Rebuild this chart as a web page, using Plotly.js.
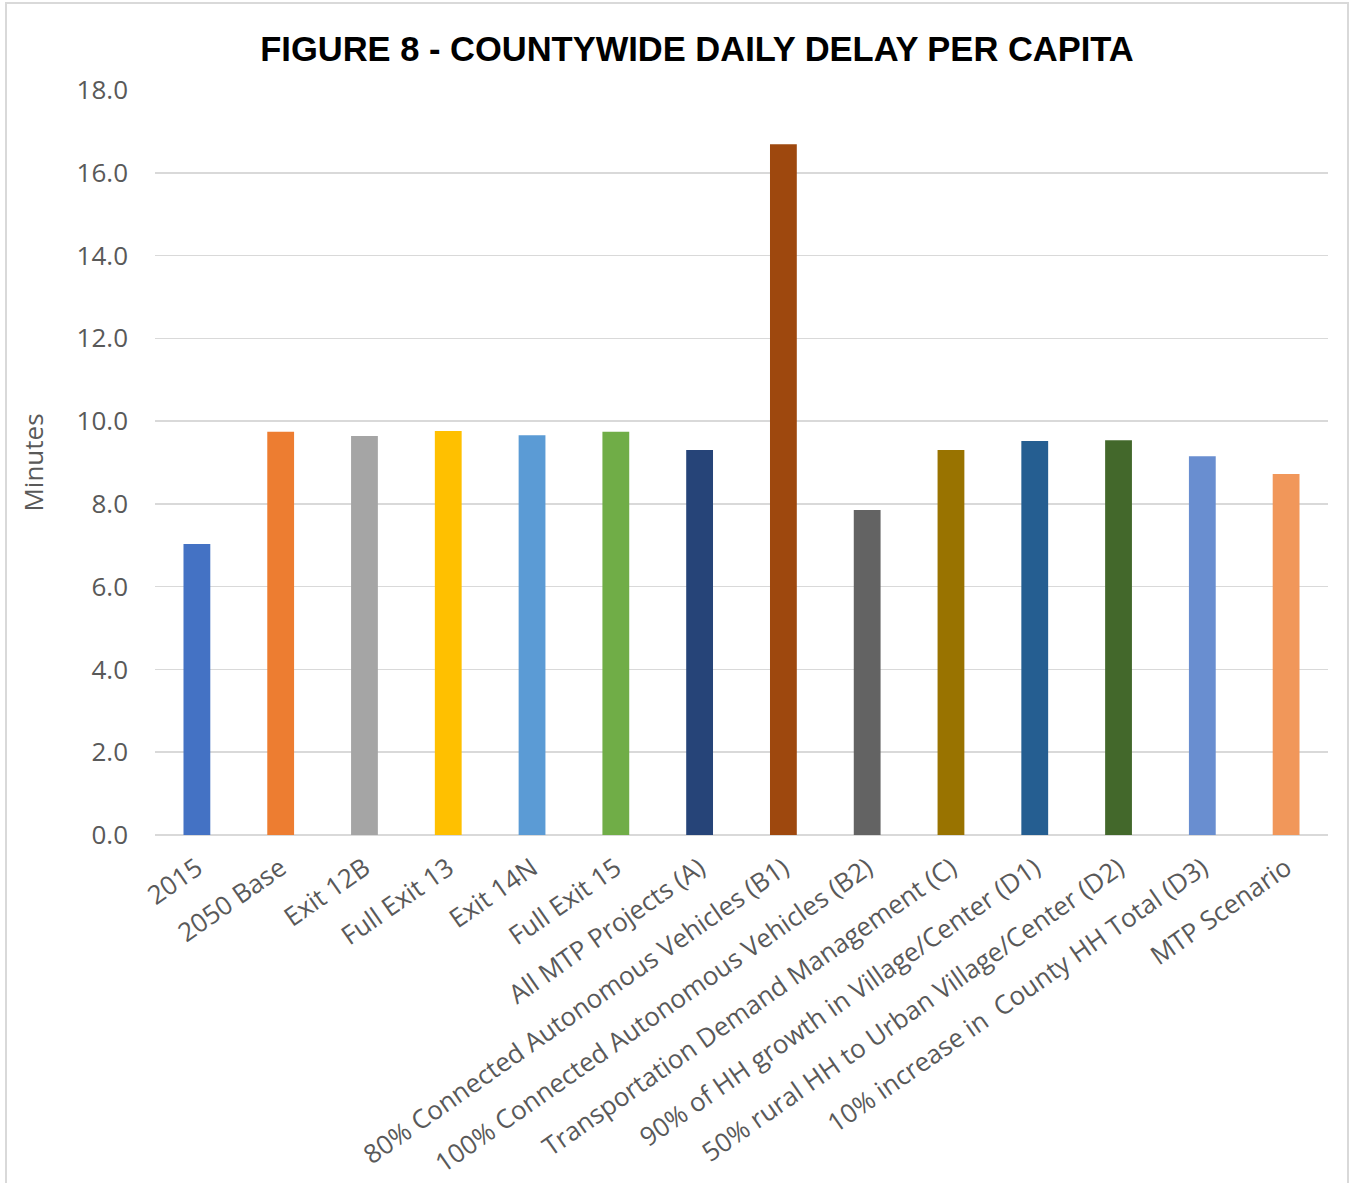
<!DOCTYPE html>
<html>
<head>
<meta charset="utf-8">
<script src="https://cdn.plot.ly/plotly-3.0.1.min.js"></script>
<style>
  html, body { margin: 0; padding: 0; background: #ffffff; }
  #chart { width: 1352px; height: 1183px; }
</style>
</head>
<body>
<div id="chart"></div>
<script>
const categories = [
  "2015",
  "2050 Base",
  "Exit 12B",
  "Full Exit 13",
  "Exit 14N",
  "Full Exit 15",
  "All MTP Projects (A)",
  "80% Connected Autonomous Vehicles (B1)",
  "100% Connected Autonomous Vehicles (B2)",
  "Transportation Demand Management (C)",
  "90% of HH growth in Village/Center (D1)",
  "50% rural HH to Urban Village/Center (D2)",
  "10% increase in  County HH Total (D3)",
  "MTP Scenario"
];
const delayMinutes = [7.03, 9.74, 9.64, 9.76, 9.66, 9.74, 9.30, 16.69, 7.85, 9.30, 9.52, 9.54, 9.15, 8.72];
const barColors = [
  "#4472C4", "#ED7D31", "#A5A5A5", "#FFC000", "#5B9BD5", "#70AD47", "#264478",
  "#9E480E", "#636363", "#997300", "#255E91", "#43682B", "#698ED0", "#F1975A"
];
const yTickValues = [0, 2, 4, 6, 8, 10, 12, 14, 16, 18];
const yTickLabels = ["0.0", "2.0", "4.0", "6.0", "8.0", "10.0", "12.0", "14.0", "16.0", "18.0"];
const chartTitle = "FIGURE 8 - COUNTYWIDE DAILY DELAY PER CAPITA";
const yAxisTitle = "Minutes";

const W = 1352, H = 1183;
const M = { l: 155, r: 24, t: 90, b: 348 };
const pw = W - M.l - M.r, ph = H - M.t - M.b;
const px = v => (v - M.l) / pw;
const py = v => (H - M.b - v) / ph;

const textFont = { family: "'Open Sans', 'Noto Sans', sans-serif", size: 26, color: "#595959" };

const trace = {
  type: "bar",
  x: categories.map((c, i) => i),
  y: delayMinutes,
  marker: { color: barColors, line: { width: 0 } },
  hoverinfo: "x+y"
};

const layout = {
  width: W,
  height: H,
  margin: M,
  paper_bgcolor: "#ffffff",
  plot_bgcolor: "#ffffff",
  showlegend: false,
  bargap: 0.68,
  title: {
    text: "<b>" + chartTitle + "</b>",
    font: { family: "'Liberation Sans', Arial, sans-serif", size: 34.5, color: "#000000" },
    x: 697 / W,
    xref: "container",
    xanchor: "center",
    y: 1 - 49 / H,
    yref: "container",
    yanchor: "middle"
  },
  xaxis: {
    type: "linear",
    range: [-0.5, categories.length - 0.5],
    tickmode: "array",
    tickvals: categories.map((c, i) => i),
    ticktext: categories,
    tickangle: -35,
    tickfont: textFont,
    showgrid: false,
    zeroline: false,
    showline: false,
    ticks: "",
    ticklabelstandoff: 12,
    fixedrange: true
  },
  yaxis: {
    range: [0, 18],
    tickmode: "array",
    tickvals: yTickValues,
    ticktext: yTickLabels,
    tickfont: textFont,
    showgrid: true,
    gridcolor: "#d9d9d9",
    gridwidth: 1.5,
    zeroline: true,
    zerolinecolor: "#d9d9d9",
    zerolinewidth: 2,
    showline: false,
    ticks: "",
    ticklabelstandoff: 26,
    title: { text: yAxisTitle, font: textFont, standoff: 25 },
    fixedrange: true
  },
  shapes: [
    {
      type: "rect",
      xref: "paper", yref: "paper",
      x0: px(6), x1: px(1348), y0: py(1260), y1: py(3),
      line: { color: "#d9d9d9", width: 2 },
      fillcolor: "rgba(0,0,0,0)",
      layer: "below"
    }
  ]
};

Plotly.newPlot("chart", [trace], layout, { displayModeBar: false, staticPlot: true });
</script>
</body>
</html>
